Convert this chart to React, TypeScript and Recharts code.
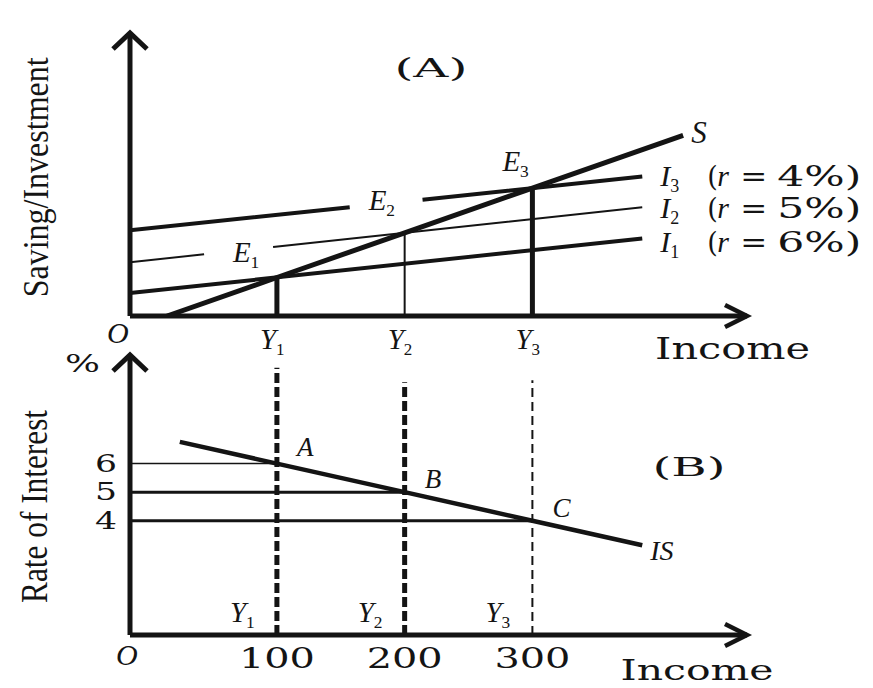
import React from "react";
import { ComposedChart, Line, XAxis, YAxis, ReferenceLine, ReferenceDot } from "recharts";

const W = 873;
const H = 688;
const ink = "#141414";
const serif = "'Liberation Serif', 'Times New Roman', serif";
const wide = "'DejaVu Serif', serif";

// income axis, shared by both panels
const incomeDomain = [-15, 468];
const incomeTicks = [100, 200, 300];
const incomeSubs = ["1", "2", "3"];

// panel A: saving and investment schedules (index units)
const svDomain = [0, 100];
const savingLine = [
  { income: 14, v: 0 },
  { income: 100, v: 13.6 },
  { income: 200, v: 29.4 },
  { income: 300, v: 45.2 },
  { income: 418, v: 63.8 },
];
const invest1 = [
  { income: -15, v: 8.1 },
  { income: 386, v: 27.4 },
];
const invest2 = [
  { income: -15, v: 19.0 },
  { income: 43, v: 21.8 },
  { income: 70, v: null },
  { income: 97, v: 24.4 },
  { income: 386, v: 38.4 },
];
const invest3 = [
  { income: -15, v: 30.3 },
  { income: 157, v: 38.4 },
  { income: 185, v: null },
  { income: 214, v: 41.1 },
  { income: 386, v: 49.3 },
];
const equilibriumSV = [13.6, 29.4, 45.2];
const investRates = ["6%", "5%", "4%"];

// panel B: IS curve
const rateDomain = [0, 9.8];
const rateTicks = [4, 5, 6];
const isCurve = [
  { income: 24, rate: 6.76 },
  { income: 100, rate: 6 },
  { income: 200, rate: 5 },
  { income: 300, rate: 4 },
  { income: 386, rate: 3.14 },
];
const isRates = [6, 5, 4];
const isPointNames = ["A", "B", "C"];
const dropTops = [9.35, 8.85, 8.92];

const arrowUp = (p: any) => (
  <path
    d={`M${p.cx - 17},${p.cy + 16} L${p.cx},${p.cy} L${p.cx + 17},${p.cy + 16}`}
    fill="none"
    stroke={ink}
    strokeWidth={5}
  />
);

const arrowRight = (p: any) => (
  <path
    d={`M${p.cx - 22},${p.cy - 11} L${p.cx},${p.cy} L${p.cx - 22},${p.cy + 11}`}
    fill="none"
    stroke={ink}
    strokeWidth={4.5}
  />
);

// italic symbol with optional upright subscript, e.g. E1, Y2
const sym = (base: string, sub: string | null, dx: number, dy: number, size = 29) => (p: any) => (
  <text x={p.cx + dx} y={p.cy + dy} fontFamily={serif} fontStyle="italic" fontSize={size} fill={ink}>
    {base}
    {sub && (
      <tspan fontStyle="normal" fontSize={size * 0.6} dy={size * 0.22}>
        {sub}
      </tspan>
    )}
  </text>
);

const plain = (txt: string, dx: number, dy: number, size: number, len: number, weight = 400) => (p: any) => (
  <text
    x={p.cx + dx}
    y={p.cy + dy}
    fontFamily={wide}
    fontSize={size}
    fontWeight={weight}
    fill={ink}
    textLength={len}
    lengthAdjust="spacingAndGlyphs"
  >
    {txt}
  </text>
);

const vertical = (txt: string, dx: number, size: number, len: number) => (p: any) => (
  <text
    transform={`translate(${p.cx + dx}, ${p.cy}) rotate(-90)`}
    textAnchor="middle"
    fontFamily={serif}
    fontSize={size}
    fill={ink}
    textLength={len}
    lengthAdjust="spacingAndGlyphs"
  >
    {txt}
  </text>
);

// I_n (r = x%) tag at the end of an investment line
const investTag = (n: string, rate: string, dy: number) => (p: any) => {
  const x = p.cx + 18;
  const y = p.cy + dy;
  return (
    <g fill={ink}>
      <text x={x} y={y} fontFamily={serif} fontStyle="italic" fontSize={30}>
        I<tspan fontStyle="normal" fontSize={18} dy={6}>{n}</tspan>
      </text>
      <text x={x + 47} y={y} fontFamily={wide} fontSize={27}>(</text>
      <text x={x + 57} y={y} fontFamily={serif} fontStyle="italic" fontSize={30}>r</text>
      <text x={x + 80} y={y} fontFamily={wide} fontSize={27} textLength={27} lengthAdjust="spacingAndGlyphs">=</text>
      <text x={x + 117} y={y} fontFamily={wide} fontSize={27} textLength={84} lengthAdjust="spacingAndGlyphs">{rate + ")"}</text>
    </g>
  );
};

const yTickA = (p: any) => {
  const i = incomeTicks.indexOf(p.payload.value);
  return (
    <text x={p.x - 17} y={p.y + 33} fontFamily={serif} fontStyle="italic" fontSize={29} fill={ink}>
      Y<tspan fontStyle="normal" fontSize={17} dy={6}>{incomeSubs[i]}</tspan>
    </text>
  );
};

const incomeTickB = (p: any) => (
  <text
    x={p.x}
    y={p.y + 33}
    textAnchor="middle"
    fontFamily={wide}
    fontSize={27}
    fill={ink}
    textLength={76}
    lengthAdjust="spacingAndGlyphs"
  >
    {p.payload.value}
  </text>
);

const rateTickB = (p: any) => (
  <text
    x={p.x - 13}
    y={p.y + 8}
    textAnchor="end"
    fontFamily={wide}
    fontSize={25}
    fill={ink}
    textLength={22}
    lengthAdjust="spacingAndGlyphs"
  >
    {p.payload.value}
  </text>
);

function PanelA() {
  return (
    <ComposedChart width={W} height={H} margin={{ top: 33, right: 126, left: 90, bottom: 342 }}>
      <XAxis
        type="number"
        dataKey="income"
        domain={incomeDomain}
        allowDataOverflow
        ticks={incomeTicks}
        interval={0}
        height={30}
        tickLine={false}
        tickSize={0}
        tickMargin={0}
        tick={yTickA}
        axisLine={{ stroke: ink, strokeWidth: 5 }}
      />
      <YAxis
        type="number"
        domain={svDomain}
        allowDataOverflow
        width={40}
        tick={false}
        tickLine={false}
        axisLine={{ stroke: ink, strokeWidth: 5 }}
      />

      {incomeTicks.map((inc, i) => (
        <ReferenceLine
          key={"drop" + i}
          segment={[{ x: inc, y: 0 }, { x: inc, y: equilibriumSV[i] }]}
          stroke={ink}
          strokeWidth={i === 1 ? 2 : 5}
        />
      ))}

      <Line data={invest1} dataKey="v" type="linear" stroke={ink} strokeWidth={4} dot={false} isAnimationActive={false} />
      <Line data={invest2} dataKey="v" type="linear" stroke={ink} strokeWidth={2} dot={false} isAnimationActive={false} />
      <Line data={invest3} dataKey="v" type="linear" stroke={ink} strokeWidth={4} dot={false} isAnimationActive={false} />
      <Line data={savingLine} dataKey="v" type="linear" stroke={ink} strokeWidth={5} dot={false} isAnimationActive={false} />

      <ReferenceDot x={incomeDomain[0]} y={svDomain[1]} shape={arrowUp} />
      <ReferenceDot x={incomeDomain[1]} y={0} shape={arrowRight} />

      <ReferenceDot x={incomeTicks[0]} y={equilibriumSV[0]} shape={sym("E", "1", -44, -16)} />
      <ReferenceDot x={incomeTicks[1]} y={equilibriumSV[1]} shape={sym("E", "2", -36, -23)} />
      <ReferenceDot x={incomeTicks[2]} y={equilibriumSV[2]} shape={sym("E", "3", -30, -17)} />

      <ReferenceDot x={418} y={63.8} shape={sym("S", null, 8, 8, 31)} />
      <ReferenceDot x={386} y={49.3} shape={investTag("3", investRates[2], 10)} />
      <ReferenceDot x={386} y={38.4} shape={investTag("2", investRates[1], 11)} />
      <ReferenceDot x={386} y={27.4} shape={investTag("1", investRates[0], 14)} />

      <ReferenceDot x={incomeDomain[0]} y={0} shape={sym("O", null, -23, 27, 30)} />
      <ReferenceDot x={396} y={0} shape={plain("Income", 0, 43, 30, 155)} />
      <ReferenceDot x={192} y={84.5} shape={plain("(A)", 0, 0, 26, 73)} />
      <ReferenceDot x={incomeDomain[0]} y={49} shape={vertical("Saving/Investment", -82, 36, 240)} />
    </ComposedChart>
  );
}

function PanelB() {
  return (
    <ComposedChart width={W} height={H} margin={{ top: 355, right: 126, left: 90, bottom: 23 }}>
      <XAxis
        type="number"
        dataKey="income"
        domain={incomeDomain}
        allowDataOverflow
        ticks={incomeTicks}
        interval={0}
        height={30}
        tickLine={false}
        tickSize={0}
        tickMargin={0}
        tick={incomeTickB}
        axisLine={{ stroke: ink, strokeWidth: 5 }}
      />
      <YAxis
        type="number"
        domain={rateDomain}
        allowDataOverflow
        ticks={rateTicks}
        interval={0}
        width={40}
        tickLine={false}
        tickSize={0}
        tickMargin={0}
        tick={rateTickB}
        axisLine={{ stroke: ink, strokeWidth: 5 }}
      />

      {incomeTicks.map((inc, i) => (
        <ReferenceLine
          key={"rate" + i}
          segment={[{ x: incomeDomain[0], y: isRates[i] }, { x: inc, y: isRates[i] }]}
          stroke={ink}
          strokeWidth={i === 0 ? 1.5 : 3}
        />
      ))}
      {incomeTicks.map((inc, i) => (
        <ReferenceLine
          key={"dash" + i}
          segment={[{ x: inc, y: 0 }, { x: inc, y: dropTops[i] }]}
          stroke={ink}
          strokeWidth={i === 2 ? 2 : 5}
          strokeDasharray={i === 2 ? "9 5" : "10 4"}
        />
      ))}

      <Line data={isCurve} dataKey="rate" type="linear" stroke={ink} strokeWidth={4.5} dot={false} isAnimationActive={false} />

      <ReferenceDot x={incomeDomain[0]} y={rateDomain[1]} shape={arrowUp} />
      <ReferenceDot x={incomeDomain[1]} y={0} shape={arrowRight} />

      {incomeTicks.map((inc, i) => (
        <ReferenceDot key={"pt" + i} x={inc} y={isRates[i]} shape={sym(isPointNames[i], null, 20, i === 0 ? -8 : -4, 27)} />
      ))}
      {incomeTicks.map((inc, i) => (
        <ReferenceDot key={"yl" + i} x={inc} y={0} shape={sym("Y", incomeSubs[i], -47, -13)} />
      ))}

      <ReferenceDot x={386} y={3.14} shape={sym("IS", null, 8, 15, 28)} />
      <ReferenceDot x={incomeDomain[0]} y={0} shape={sym("O", null, -14, 30, 30)} />
      <ReferenceDot x={incomeDomain[0]} y={rateDomain[1]} shape={plain("%", -65, 17, 24, 35)} />
      <ReferenceDot x={369} y={0} shape={plain("Income", 0, 45, 27, 153)} />
      <ReferenceDot x={394} y={5.57} shape={plain("(B)", 0, 0, 26, 73)} />
      <ReferenceDot x={incomeDomain[0]} y={4.5} shape={vertical("Rate of Interest", -83, 38, 193)} />
    </ComposedChart>
  );
}

export default function App() {
  return (
    <div style={{ position: "absolute", left: 0, top: 0, width: W, height: H, background: "#fff", overflow: "hidden" }}>
      <div style={{ position: "absolute", left: 0, top: 0 }}>
        <PanelA />
      </div>
      <div style={{ position: "absolute", left: 0, top: 0 }}>
        <PanelB />
      </div>
    </div>
  );
}
